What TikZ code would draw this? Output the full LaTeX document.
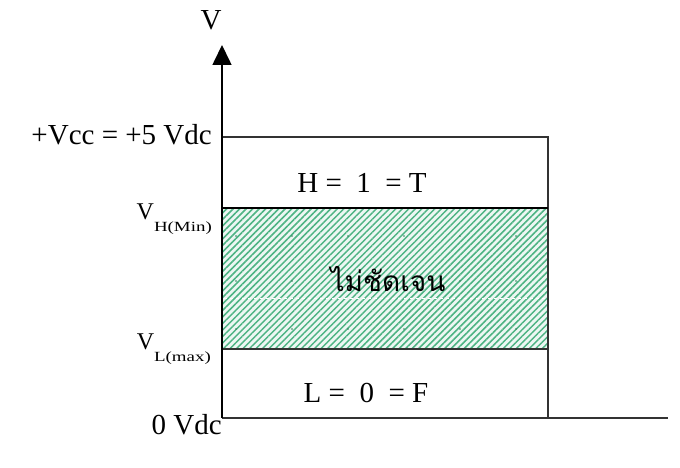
\documentclass[tikz,border=0pt]{standalone}
\usepackage{fontspec}
\setmainfont{Liberation Serif}
\newfontfamily\thaifont[Script=Thai]{Loma}
\usetikzlibrary{positioning,arrows.meta,patterns.meta}
\definecolor{HatchGreen}{HTML}{4DB383}
\definecolor{LineGray}{HTML}{333333}
\newcommand{\vsub}[1]{{\fontsize{24}{24}\selectfont V}\raisebox{-12pt}{\scalebox{1.35}[1]{\fontsize{14}{14}\selectfont #1}}}

\begin{document}
\begin{tikzpicture}[x=1pt,y=1pt,every node/.style={inner sep=0pt,font=\fontsize{29}{29}\selectfont},
  boxline/.style={draw=LineGray,line width=1.3pt}]
  \useasboundingbox (0,0) rectangle (680,468);
  \coordinate (o) at (222,50);
  \coordinate (top) at (222,423);
  \coordinate (xend) at (668,50);
  % zone between V_L(max) and V_H(min)
  \fill[HatchGreen!10] (222,119) rectangle (548,260);
  \fill[pattern={Lines[angle=45,distance=4.6pt,line width=1.5pt]},pattern color=HatchGreen] (222,119) rectangle (548,260);
  \draw[white,dashed,line width=0.7pt] (224,170) -- (546,170);
  \foreach \y in {139,187,232}{
    \foreach \x in {236,292,...,548}{
      \fill[HatchGreen!70!black] (\x,\y) circle (0.9pt);
    }
  }
  % box
  \draw[boxline] (222,331) -- (548,331) -- (548,50);
  \draw[boxline] (222,119) -- (548,119);
  \draw[draw=black,line width=2.4pt] (222,260) -- (548,260);
  % axes
  \draw[boxline] (o) -- (xend);
  \draw[line width=1.6pt,-{Triangle[length=20pt,width=19pt]}] (o) -- (top);
  \node[anchor=base] (vlab) at (211,438) {V};
  \node[anchor=base east] (vcc) at (212,323) {+Vcc = +5 Vdc};
  \node[anchor=base east] (vh) at (212,248) {\vsub{H(Min)}};
  \node[anchor=base east] (vl) at (211,118) {\vsub{L(max)}};
  \node[anchor=base east] (zero) at (222,33) {0 Vdc};
  \node[anchor=base] (hi) at (362,275) {H =\ \ 1\ \ = T};
  \node (mid) at (388,189) {\thaifont\fontsize{28}{28}\selectfont ไม่ชัดเจน};
  \node[anchor=base] (lo) at (366,65) {L =\ \ 0\ \ = F};
\end{tikzpicture}
\end{document}
